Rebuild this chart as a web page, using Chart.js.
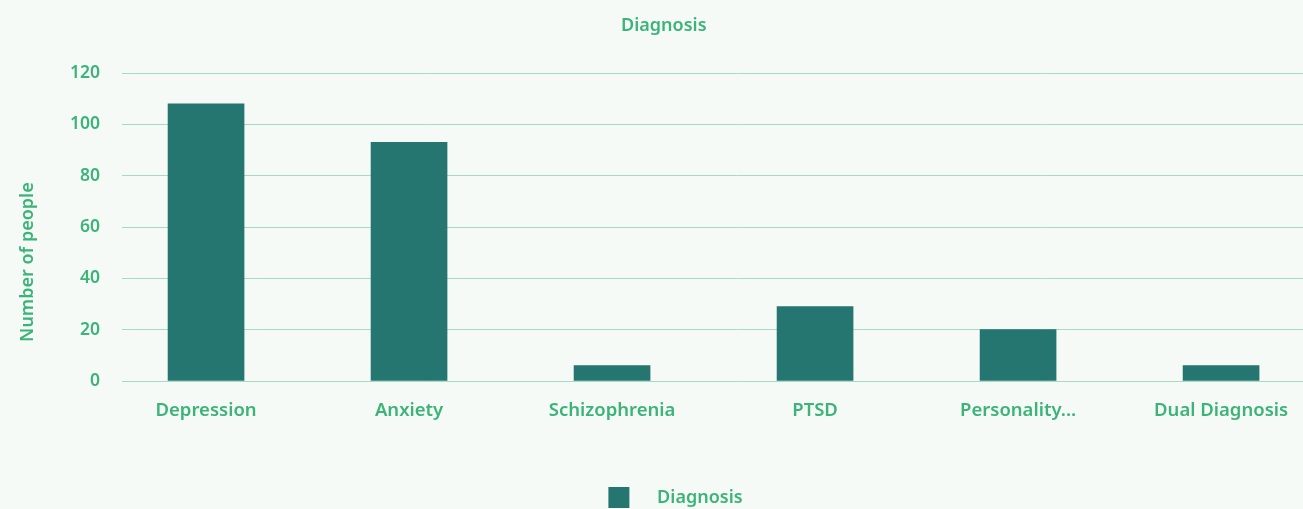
<!DOCTYPE html>
<html>
<head>
<meta charset="utf-8">
<script src="https://cdn.jsdelivr.net/npm/chart.js@4.4.1/dist/chart.umd.min.js"></script>
<style>
  html, body { margin: 0; padding: 0; background: #f5faf7; overflow: hidden; }
  #wrap { width: 1351px; height: 518px; }
</style>
</head>
<body>
<div id="wrap"><canvas id="diagnosisChart"></canvas></div>
<script>
// Chart data
const categories = ["Depression", "Anxiety", "Schizophrenia", "PTSD", "Personality...", "Dual Diagnosis"];
const peopleCounts = [108, 93, 6, 29, 20, 6];
const yTicks = [0, 20, 40, 60, 80, 100, 120];

const green = "#3cb478";
const barColor = "#257571";
const gridColor = "#a5dbc0";

Chart.defaults.font.family = "'Noto Sans', 'Open Sans', sans-serif";
Chart.defaults.font.weight = "600";
Chart.defaults.color = green;

const ctx = document.getElementById("diagnosisChart").getContext("2d");
const diagnosisChart = new Chart(ctx, {
    type: "bar",
    data: {
        datasets: [{
            label: "Diagnosis",
            data: peopleCounts.map((v, i) => ({ x: i, y: v })),
            backgroundColor: barColor,
            borderWidth: 0,
            barThickness: 76
        }]
    },
    options: {
        responsive: true,
        maintainAspectRatio: false,
        animation: false,
        layout: { padding: 0 },
        plugins: {
            title: {
                display: true,
                text: "Diagnosis     ",
                color: green,
                font: { size: 18, weight: "600" },
                padding: { top: 15, bottom: 36.4 }
            },
            legend: {
                position: "bottom",
                labels: {
                    boxWidth: 21,
                    boxHeight: 21,
                    padding: 10,
                    color: green,
                    font: { size: 18, weight: "600" },
                    // push the label text a bit further from the box
                    generateLabels: (chart) => Chart.defaults.plugins.legend.labels.generateLabels(chart)
                        .map(item => ({ ...item, text: "    " + item.text, lineWidth: 0 }))
                }
            },
            tooltip: { enabled: false }
        },
        scales: {
            x: {
                type: "linear",
                offset: false,
                min: -0.414,
                max: 5.640,
                grid: { display: false },
                border: { display: false },
                ticks: {
                    stepSize: 1,
                    includeBounds: false,
                    autoSkip: false,
                    maxRotation: 0,
                    padding: 11,
                    color: green,
                    font: { size: 18.5, weight: "600" },
                    callback: (value) => categories[value] ?? ""
                },
                afterFit: (axis) => { axis.height = 96; }
            },
            y: {
                min: 0,
                max: 120,
                afterBuildTicks: (axis) => { axis.ticks = yTicks.map(v => ({ value: v })); },
                grid: { color: gridColor, lineWidth: 1, drawTicks: false },
                border: { display: false },
                ticks: {
                    padding: 22,
                    color: green,
                    font: { size: 17.5, weight: "600" }
                },
                title: {
                    display: true,
                    text: "Number of people               ",
                    color: green,
                    font: { size: 18, weight: "600" },
                    padding: { top: 17, bottom: 0 }
                },
                afterFit: (axis) => { axis.width = 122; }
            }
        }
    }
});
</script>
</body>
</html>
